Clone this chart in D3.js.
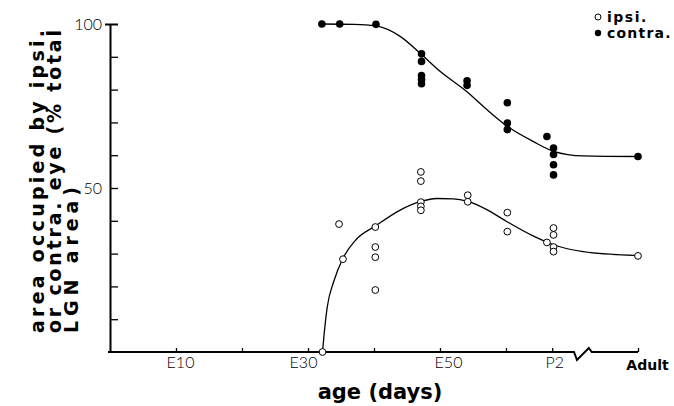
<!DOCTYPE html>
<html>
<head>
<meta charset="utf-8">
<script src="https://cdn.jsdelivr.net/npm/d3@7"></script>
<style>
  body { margin: 0; background: #fff; }
  text { fill: #000; }
</style>
</head>
<body>
<div id="chartbox"></div>
<script>
// ages in days from conception; "Adult" sits after the axis break at 80
var ipsiDays = [32.2, 34.7, 35.3, 40.2, 40.2, 40.2, 40.2, 47.1, 47.1, 47.1, 47.1, 47.1,
                54.2, 54.2, 60.2, 60.2, 67.2, 67.2, 66.2, 67.2, 67.2, 80];
var ipsiVals = [0, 39.0, 28.3, 38.1, 32.0, 28.9, 18.9, 54.9, 52.1, 45.7, 44.4, 43.2,
                47.8, 45.8, 42.5, 36.7, 37.8, 35.7, 33.4, 32.0, 30.6, 29.3];

var contraDays = [32.1, 34.8, 40.3, 47.2, 47.2, 47.2, 47.2, 47.2, 54.1, 54.1,
                  60.2, 60.2, 60.2, 66.2, 67.2, 67.2, 67.2, 67.2, 80];
var contraVals = [100, 100, 99.9, 90.9, 88.6, 84.3, 83.1, 81.8, 82.7, 81.3,
                  76.0, 69.8, 67.8, 65.7, 62.2, 60.2, 57.1, 54.0, 59.6];

// fitted curves
var contraCurveDays = [32.1, 37, 40.3, 43.9, 47.2, 50.0, 54.0, 57.1, 60.2, 64.1, 67.2, 71.7, 80];
var contraCurveVals = [100, 99.9, 99.4, 96.3, 90.7, 85.6, 79.5, 73.9, 68.8, 64.2, 61.2, 59.8, 59.6];

var ipsiCurveDays = [32.2, 32.4, 32.9, 33.9, 35.3, 37.3, 40.2, 43.9, 47.1, 49.5, 52.0, 54.2, 57.1, 60.1, 64.1, 67.2, 71.7, 80];
var ipsiCurveVals = [0, 4.5, 13.5, 21.5, 28.6, 34.3, 38.4, 43.2, 45.9, 46.8, 46.7, 45.9, 43.4, 39.8, 35.4, 32.7, 30.6, 29.4];

var xTickValues = [10, 20, 30, 40, 50, 60, 67, 80];
var xTickLabels = {10: "E10", 30: "E30", 50: "E50", 67: "P2", 80: "Adult"};
var yTickValues = [0, 10, 20, 30, 40, 50, 60, 70, 80, 90, 100];

const width = 674, height = 406;

var svg = d3.select('#chartbox').append('svg')
  .attr('width', width).attr('height', height)
  .attr('viewBox', [0, 0, width, height]);
svg.append('rect').attr('width', width).attr('height', height).attr('fill', '#fff');

var x = d3.scaleLinear().domain([0, 80]).range([110, 638]);
var y = d3.scaleLinear().domain([0, 100]).range([352, 24]);

var lightFont = "Lato, 'Open Sans', sans-serif";
var boldFont = "'DejaVu Sans', sans-serif";

// y axis, ticks pointing inward
var yAxis = d3.axisLeft(y).tickValues(yTickValues).tickSizeInner(-8).tickSizeOuter(0).tickPadding(8)
  .tickFormat(function(d) { return (d === 100 || d === 50) ? d : ""; });
var gy = svg.append('g').attr('transform', 'translate(' + x(0) + ',0)').call(yAxis);
gy.select('.domain').attr('stroke', '#000').attr('stroke-width', 2);
gy.selectAll('.tick line').attr('stroke-width', 1.3).filter(function(d) { return d === 0; }).remove();
gy.selectAll('.tick line').filter(function(d) { return d === 100; }).attr('x1', -5).attr('stroke-width', 2);
gy.selectAll('.tick text').attr('font-family', lightFont).attr('font-weight', 300)
  .attr('font-size', 16).attr('fill', '#000');

// x axis: ticks only, line drawn by hand because of the break
var labelNudge = {10: 4, 30: -5, 50: 8, 67: 2, 80: 9};
var xAxis = d3.axisBottom(x).tickValues(xTickValues).tickSizeInner(-4).tickSizeOuter(0).tickPadding(5)
  .tickFormat(function(d) { return xTickLabels[d] || ""; });
var gx = svg.append('g').attr('transform', 'translate(0,' + y(0) + ')').call(xAxis);
gx.select('.domain').remove();
gx.selectAll('.tick line').attr('stroke-width', 1.3);
gx.selectAll('.tick text').attr('font-family', lightFont).attr('font-weight', 300)
  .attr('font-size', 16).attr('fill', '#000').attr('dx', function(d) { return labelNudge[d] || 0; });
gx.selectAll('.tick text').filter(function(d) { return d === 80; })
  .attr('font-family', boldFont).attr('font-weight', 'bold').attr('font-size', 14).attr('dy', '0.9em');

var y0 = y(0), b1 = x(70.3), b2 = x(73);
svg.append('path')
  .attr('d', 'M' + (x(0) - 2) + ',' + y0 + 'H' + b1 + 'l3,8L' + (b2 - 3) + ',' + (y0 - 4) + 'l3,4H' + x(80))
  .attr('fill', 'none').attr('stroke', '#000').attr('stroke-width', 2);

// curves
var line = d3.line().x(function(d) { return x(d[0]); }).y(function(d) { return y(d[1]); })
  .curve(d3.curveMonotoneX);
svg.append('path').datum(d3.zip(contraCurveDays, contraCurveVals)).attr('d', line)
  .attr('fill', 'none').attr('stroke', '#000').attr('stroke-width', 1.3);
svg.append('path').datum(d3.zip(ipsiCurveDays, ipsiCurveVals)).attr('d', line)
  .attr('fill', 'none').attr('stroke', '#000').attr('stroke-width', 1.3);

// points
svg.selectAll('circle.contra').data(d3.zip(contraDays, contraVals)).join('circle')
  .attr('class', 'contra').attr('cx', function(d) { return x(d[0]); }).attr('cy', function(d) { return y(d[1]); })
  .attr('r', 3.8).attr('fill', '#000');
svg.selectAll('circle.ipsi').data(d3.zip(ipsiDays, ipsiVals)).join('circle')
  .attr('class', 'ipsi').attr('cx', function(d) { return x(d[0]); }).attr('cy', function(d) { return y(d[1]); })
  .attr('r', 3.4).attr('fill', '#fff').attr('stroke', '#000').attr('stroke-width', 1);

// legend
svg.append('circle').attr('cx', 598).attr('cy', 17).attr('r', 3).attr('fill', '#fff').attr('stroke', '#000');
svg.append('circle').attr('cx', 598).attr('cy', 33).attr('r', 3.2).attr('fill', '#000');
svg.append('text').attr('x', 607).attr('y', 22).text('ipsi.')
  .attr('font-family', boldFont).attr('font-weight', 'bold').attr('font-size', 14).attr('letter-spacing', 1.5);
svg.append('text').attr('x', 607).attr('y', 38).text('contra.')
  .attr('font-family', boldFont).attr('font-weight', 'bold').attr('font-size', 14).attr('letter-spacing', 1.2);

// axis titles
svg.append('text').attr('x', 380).attr('y', 399).attr('text-anchor', 'middle').text('age (days)')
  .attr('font-family', boldFont).attr('font-weight', 'bold').attr('font-size', 21);

var yTitle = [
  {t: 'area occupied by ipsi.', bx: 44, len: 303},
  {t: 'or contra. eye (% total', bx: 61, len: 303},
  {t: 'LGN area)', bx: 78, len: 146}
];
yTitle.forEach(function(l) {
  svg.append('text').attr('transform', 'translate(' + l.bx + ',333) rotate(-90)')
    .attr('textLength', l.len).attr('lengthAdjust', 'spacing').text(l.t)
    .attr('font-family', boldFont).attr('font-weight', 'bold').attr('font-size', 19);
});
</script>
</body>
</html>
